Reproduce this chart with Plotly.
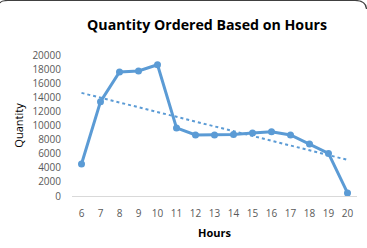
import numpy as np
import plotly.graph_objects as go

hours = [6, 7, 8, 9, 10, 11, 12, 13, 14, 15, 16, 17, 18, 19, 20]
quantity = [4540, 13380, 17590, 17730, 18620, 9650, 8650, 8650, 8740, 8940, 9120, 8650, 7380, 6040, 430]
y_ticks = [0, 2000, 4000, 6000, 8000, 10000, 12000, 14000, 16000, 18000, 20000]

slope, intercept = np.polyfit(hours, quantity, 1)
trend = [slope * h + intercept for h in hours]

W, H = 367, 248
L, R, T, B = 72, 10, 55, 52
pw, ph = W - L - R, H - T - B

def px(x):
    return (x - L) / pw

def py(y):
    return (H - B - y) / ph

FONT = "Open Sans"
GREY = "#595959"
BLUE = "#5B9BD5"

fig = go.Figure()
fig.add_trace(go.Scatter(x=hours, y=trend, mode="lines",
                         line=dict(color=BLUE, width=2, dash="dot"),
                         hoverinfo="skip", showlegend=False))
fig.add_trace(go.Scatter(x=hours, y=quantity, mode="lines+markers",
                         line=dict(color=BLUE, width=3),
                         marker=dict(color=BLUE, size=7),
                         cliponaxis=False, showlegend=False))

fig.update_layout(
    width=W, height=H,
    margin=dict(l=L, r=R, t=T, b=B),
    paper_bgcolor="white", plot_bgcolor="white",
    font=dict(family=FONT, color=GREY, size=10),
    title=dict(text="<b>Quantity Ordered Based on Hours</b>",
               font=dict(family=FONT, size=14.2, color="#000000"),
               x=px(207), xanchor="center", xref="paper",
               y=1 - 25 / H, yanchor="middle"),
    xaxis=dict(range=[5.5, 20.5], tickmode="array", tickvals=hours,
               ticktext=[str(h) for h in hours],
               showgrid=False, zeroline=False, showline=True,
               linecolor="#d9d9d9", linewidth=1, ticks="",
               tickfont=dict(size=10, color=GREY), ticklabelstandoff=8,
               title=dict(text="<b>Hours</b>", font=dict(size=11, color="#000000"),
                          standoff=10)),
    yaxis=dict(range=[0, 20000], tickvals=y_ticks,
               ticktext=[str(v) for v in y_ticks],
               showgrid=False, zeroline=False, showline=False, ticks="",
               tickfont=dict(size=10, color=GREY), ticklabelstandoff=10,
               title=dict(text="Quantity", font=dict(size=11, color="#000000"),
                          standoff=6)),
    shapes=[
        dict(type="path", xref="paper", yref="paper",
             path=(f"M {px(0)},{py(3)} Q {px(1)},{py(0.5)} {px(8)},{py(0.5)} "
                   f"L {px(355)},{py(0.5)} Q {px(366)},{py(0.5)} {px(366.5)},{py(9)}"),
             line=dict(color="#404040", width=1.2)),
    ],
)

fig.write_html("out.html")
